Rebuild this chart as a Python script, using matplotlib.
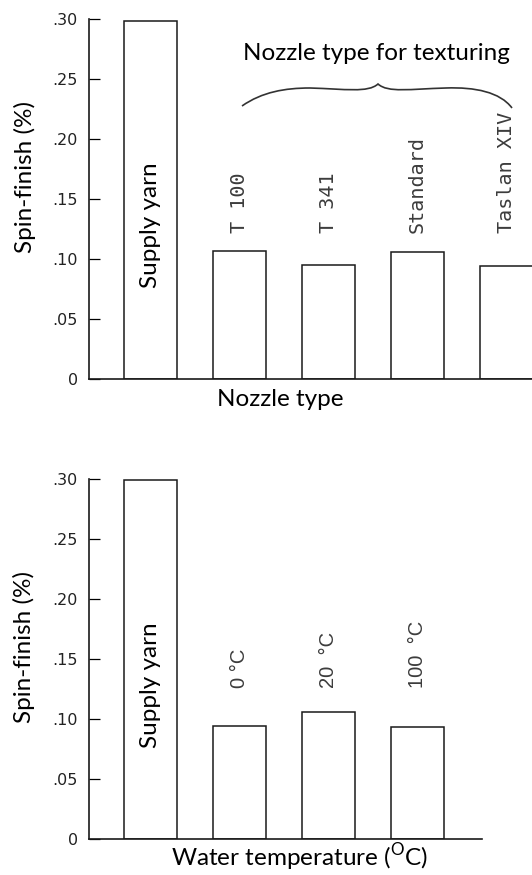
import numpy as np
import matplotlib.pyplot as plt
from matplotlib.path import Path
from matplotlib.patches import PathPatch

# Spin-finish content left on the yarn (%)
nozzle_names = ['Supply yarn', 'T 100', 'T 341', 'Standard', 'Taslan XIV']
nozzle_finish = [0.298, 0.107, 0.095, 0.106, 0.094]

water_names = ['Supply yarn', '0 °C', '20  °C', '100  °C']
water_finish = [0.299, 0.094, 0.106, 0.093]

y_ticks = [0, 0.05, 0.10, 0.15, 0.20, 0.25, 0.30]
y_ticklabels = ['0', '.05', '.10', '.15', '.20', '.25', '.30']

W, H = 532, 875
label_font = 'Lato'
label_size = 17.5
ink = '#1a1a1a'


def px_box(left, top, right, bottom):
    return [left / W, 1 - bottom / H, (right - left) / W, (bottom - top) / H]


def fx(x):
    return x / W


def fy(y):
    return 1 - y / H


def bar_panel(ax, names, values, x_right, tag_y, tag_font, tag_size):
    xs = np.arange(len(values))
    ax.bar(xs, values, width=0.6, color='white', edgecolor=ink, linewidth=1.1)
    ax.set_xlim(-0.69, x_right)
    ax.set_ylim(0, 0.30)
    ax.set_yticks(y_ticks)
    ax.set_yticklabels(y_ticklabels, fontsize=11.5, color='#222222')
    ax.set_xticks([])
    ax.tick_params(axis='y', direction='in', length=8, width=0.9, pad=8)
    for s in ['top', 'right']:
        ax.spines[s].set_visible(False)
    for s in ['left', 'bottom']:
        ax.spines[s].set_linewidth(1.2)
        ax.spines[s].set_color(ink)
    ax.text(0, 0.128, names[0], rotation=90, ha='center', va='center',
            family=label_font, fontsize=label_size, color='black')
    for i, name in enumerate(names[1:], start=1):
        ax.text(i, tag_y, name, rotation=90, ha='center', va='bottom',
                family=tag_font, fontsize=tag_size, color='#3c3c3c')


fig = plt.figure(figsize=(5.32, 8.75), dpi=100)

ax1 = fig.add_axes(px_box(89, 19, 532, 379))
bar_panel(ax1, nozzle_names, nozzle_finish, 4.287, 0.1217, 'DejaVu Sans Mono', 14.5)

ax2 = fig.add_axes(px_box(89, 479, 482, 839))
bar_panel(ax2, water_names, water_finish, 3.725, 0.126, 'Liberation Sans', 14.5)

# axis labels
fig.text(fx(25), fy(177), 'Spin-finish (%)', rotation=90, ha='center', va='center',
         family=label_font, fontsize=label_size)
fig.text(fx(24), fy(647), 'Spin-finish (%)', rotation=90, ha='center', va='center',
         family=label_font, fontsize=label_size)
fig.text(fx(280), fy(400), 'Nozzle type', ha='center', va='center',
         family=label_font, fontsize=label_size)
fig.text(fx(300), fy(857), 'Water temperature ($^{\\mathregular{O}}$C)', ha='center', va='center',
         family=label_font, fontsize=label_size)

# group heading with a curly brace over the nozzle bars
fig.text(fx(376), fy(54), 'Nozzle type for texturing', ha='center', va='center',
         family=label_font, fontsize=label_size)

brace_px = [(242, 106), (262, 92), (285, 88), (310, 88),
            (345, 89), (368, 93), (378, 84),
            (388, 93), (410, 89), (446, 88),
            (475, 87), (500, 92), (512, 108)]
codes = [Path.MOVETO] + [Path.CURVE4] * 12
verts = [(fx(x), fy(y)) for x, y in brace_px]
fig.patches.append(PathPatch(Path(verts, codes), transform=fig.transFigure,
                             fill=False, edgecolor='#333333', linewidth=1.2))

fig.savefig('out.png', dpi=100, facecolor='white')
